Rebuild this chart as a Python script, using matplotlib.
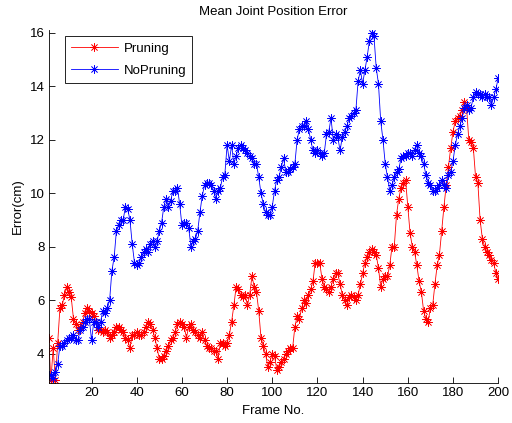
import numpy as np
import matplotlib
matplotlib.use("Agg")
import matplotlib.pyplot as plt

# values, frames 1..200
pruning = [
    4.6, 3.0, 4.2, 3.0, 4.4, 5.7, 5.8, 6.2, 6.5, 6.3,
    6.1, 5.3, 5.1, 4.9, 5.0, 5.2, 5.5, 5.7, 5.6, 5.5,
    5.4, 5.2, 4.9, 4.9, 4.8, 4.9, 4.8, 4.6, 4.7, 4.8,
    5.0, 5.0, 4.9, 4.8, 4.6,
    4.5, 4.2, 4.7, 4.7, 4.8, 4.7, 4.7, 4.8, 5.0, 5.2,
    5.1, 4.9, 4.6, 4.2, 3.8, 3.8, 3.9, 4.1, 4.3, 4.5,
    4.6, 4.8, 5.1, 5.2, 5.1, 5.0, 4.6, 5.0, 5.1, 4.9,
    4.8, 4.7, 4.6,
    4.8, 4.5, 4.3, 4.2, 4.2, 4.1, 4.1, 3.8, 4.4, 4.4,
    4.3, 4.4, 4.7, 5.2, 5.8, 6.5, 6.4, 6.2, 6.1, 6.2,
    5.8, 6.2, 6.9, 6.5, 6.3, 5.6, 4.6, 4.3, 4.0, 3.5,
    3.7, 4.0, 3.9, 3.4,
    3.5, 3.7, 3.8, 4.0, 4.1, 4.2, 4.2, 5.0, 5.4, 5.3,
    5.7, 6.0, 5.9, 6.2, 6.4, 6.7, 7.4, 7.4, 7.4, 6.8,
    6.5, 6.4, 6.3, 6.5, 6.8, 7.0, 7.0, 6.6, 6.2, 6.0,
    5.8, 6.1, 6.2, 6.1,
    6.0, 6.2, 6.6, 7.0, 7.4, 7.6, 7.8, 7.9, 7.8, 7.7,
    7.2, 6.5, 6.8, 6.9, 6.9, 7.3, 8.0, 8.0, 9.2, 9.8,
    10.2, 10.4, 10.5, 9.5, 8.5, 8.0, 7.8, 7.3, 6.7, 6.3,
    5.6, 5.3, 5.2, 5.7,
    5.8, 6.6, 7.3, 7.7, 8.6, 9.5, 10.3, 11.0, 11.7, 12.3,
    12.7, 12.8, 12.9, 13.1, 13.4, 13.2, 12.0, 11.9, 11.7, 10.6,
    10.4, 9.0, 8.3, 8.0, 7.8, 7.7, 7.5, 7.4, 7.0, 6.8,
]

no_pruning = [
    3.2, 3.2, 3.1, 3.3, 3.6, 4.3, 4.3, 4.4, 4.5, 4.6,
    4.6, 4.7, 4.5, 4.5, 4.9, 5.0, 5.2, 5.3, 5.3, 4.5,
    5.2, 5.2, 5.0, 5.2, 5.6, 5.5, 5.7, 6.0, 7.1, 7.6,
    8.6, 8.8, 9.0, 9.0, 9.5,
    9.4, 9.0, 8.1, 7.4, 7.3, 7.4, 7.6, 7.8, 7.9, 7.8,
    8.1, 8.2, 8.0, 8.2, 8.6, 8.9, 9.5, 9.8, 9.5, 9.7,
    10.1, 10.1, 10.2, 9.6, 8.8, 8.9, 8.9, 8.7, 8.0, 8.2,
    8.3, 8.6, 9.3,
    9.9, 10.3, 10.4, 10.4, 10.3, 10.1, 9.8, 10.1, 10.2, 10.6,
    10.7, 11.8, 11.2, 11.8, 11.1, 11.4, 11.7, 11.8, 11.7, 11.6,
    11.5, 11.4, 11.3, 11.1, 11.1, 10.6, 10.0, 9.6, 9.3, 9.2,
    9.2, 9.5, 10.1, 10.5,
    10.6, 11.0, 11.3, 10.8, 10.8, 10.9, 11.0, 11.1, 12.0, 12.4,
    12.5, 12.5, 12.7, 12.4, 12.0, 11.6, 11.5, 11.6, 11.5, 11.4,
    11.5, 12.2, 12.3, 12.8, 12.0, 12.2, 12.1, 11.6, 12.1, 12.3,
    12.5, 12.8, 12.9, 13.0,
    13.1, 14.2, 14.6, 14.1, 14.6, 15.1, 15.7, 16.0, 15.9, 14.7,
    14.1, 12.7, 12.0, 11.1, 10.6, 10.1, 10.3, 10.6, 10.8, 10.9,
    11.3, 11.4, 11.4, 11.5, 11.5, 11.4, 11.6, 11.8, 11.5, 11.4,
    11.1, 10.7, 10.4, 10.3,
    10.1, 10.1, 10.2, 10.3, 10.5, 10.3, 10.2, 10.7, 10.8, 11.2,
    11.8, 12.2, 12.5, 12.8, 13.2, 13.3, 13.1, 13.2, 13.6, 13.8,
    13.7, 13.7, 13.6, 13.7, 13.6, 13.6, 13.3, 13.6, 13.9, 14.3,
]

frames = np.arange(1, len(pruning) + 1)
x_ticks = [20, 40, 60, 80, 100, 120, 140, 160, 180, 200]
y_ticks = [4, 6, 8, 10, 12, 14, 16]

plt.rcParams['font.family'] = ['Liberation Sans', 'DejaVu Sans']
plt.rcParams['font.size'] = 9.5

fig = plt.figure(figsize=(5.12, 4.23), dpi=100)
ax = fig.add_axes([0.095, 0.0946, 0.878, 0.834])

star = (8, 2, 0)
ax.plot(frames, pruning, color='red', lw=0.6, marker=star,
        markersize=6, markeredgewidth=0.5, label='Pruning')
ax.plot(frames, no_pruning, color='blue', lw=0.6, marker=star,
        markersize=6, markeredgewidth=0.5, label='NoPruning')

ax.set_xlim(1, 200)
ax.set_ylim(2.9, 16.1)
ax.set_xticks(x_ticks)
ax.set_yticks(y_ticks)
ax.tick_params(direction='in', length=4, width=0.6, colors='black',
               labelsize=9.5, pad=3)
for side in ['top', 'right']:
    ax.spines[side].set_visible(False)
for side in ['left', 'bottom']:
    ax.spines[side].set_linewidth(0.6)

ax.set_title('Mean Joint Position Error', fontsize=9.5, pad=11)
ax.set_xlabel('Frame No.', fontsize=9.5, labelpad=4)
ax.set_ylabel('Error(cm)', fontsize=9.5, labelpad=4)

leg = ax.legend(loc='upper left', bbox_to_anchor=(0.03, 0.99), fontsize=9.5,
                handlelength=3.6, fancybox=False, framealpha=1,
                edgecolor='black', borderaxespad=0.2, labelspacing=0.75,
                borderpad=0.45, handletextpad=0.4)
leg.get_frame().set_linewidth(0.6)

fig.savefig('out.png', dpi=100)
